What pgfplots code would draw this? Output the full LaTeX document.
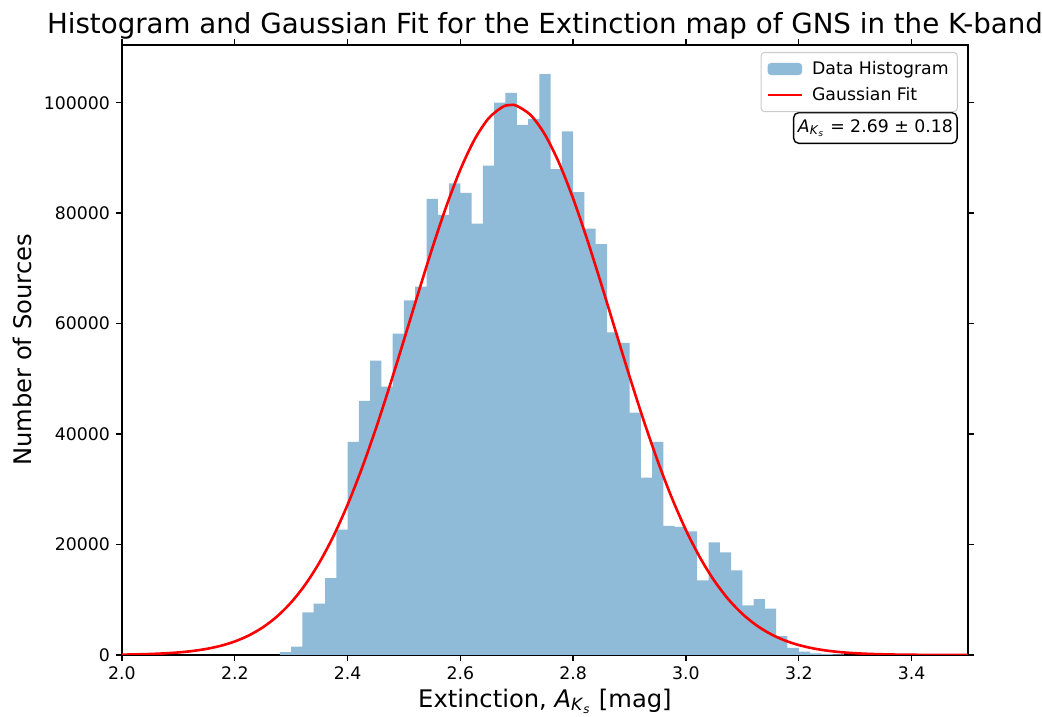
\documentclass[border=0pt]{standalone}
\usepackage{fontspec}
\setmainfont{DejaVu Sans}
\usepackage{pgfplots}
\pgfplotsset{compat=1.18}

\definecolor{histblue}{HTML}{8FBBD9}
\definecolor{fitred}{HTML}{FF0000}
\newcommand\AKs{\textit{A}\textsubscript{\textit{K}\textsubscript{\textit{s}}}}

\begin{document}
\begin{tikzpicture}
\useasboundingbox (-70.5pt,-35.8pt) rectangle (531.8pt,378.6pt);
\begin{axis}[
  at={(0,0)}, anchor=south west,
  scale only axis, width=489pt, height=352.6pt,
  xmin=2, xmax=3.5, ymin=0, ymax=110460,
  xtick={2.0,2.2,2.4,2.6,2.8,3.0,3.2,3.4},
  ytick={0,20000,40000,60000,80000,100000},
  scaled y ticks=false,
  /pgf/number format/assume math mode=true,
  xticklabel style={/pgf/number format/.cd, fixed, fixed zerofill, precision=1},
  yticklabel style={/pgf/number format/.cd, fixed, 1000 sep={}},
  tick label style={font=\fontsize{10}{12}\selectfont},
  tick pos=both, tick align=outside,
  xticklabel pos=lower, yticklabel pos=left,
  major tick length=3.5pt,
  every tick/.style={black, line width=0.8pt},
  axis line style={line width=0.8pt},
  title={Histogram and Gaussian Fit for the Extinction map of GNS in the K-band},
  title style={font=\fontsize{16}{19}\selectfont, yshift=-6.5pt},
  xlabel={Extinction, \AKs{} [mag]},
  xlabel style={yshift=2pt},
  ylabel={Number of Sources},
  label style={font=\fontsize{14}{17}\selectfont},
  legend cell align=left,
  legend style={at={(rel axis cs:0.988,0.9885)}, anchor=north east,
    draw=black!20, rounded corners=2pt, line width=0.6pt,
    font=\fontsize{10}{12}\selectfont, row sep=2pt, inner sep=3pt,
    /tikz/every odd column/.append style={column sep=3pt}},
]
% histogram counts, bins of 0.02 mag (left edges)
\addplot[ybar interval, fill=histblue, draw=none,
  legend image code/.code={\fill[histblue] (0pt,-3.5pt) rectangle (20pt,3.5pt);}]
  coordinates {
  (2.28,500) (2.30,1500) (2.32,7700) (2.34,9300) (2.36,13900) (2.38,22700)
  (2.40,38600) (2.42,46000) (2.44,53300) (2.46,48600) (2.48,58200)
  (2.50,64200) (2.52,66700) (2.54,82600) (2.56,79700) (2.58,85400)
  (2.60,83700) (2.62,78100) (2.64,88600) (2.66,100000) (2.68,101800)
  (2.70,96000) (2.72,97100) (2.74,105200) (2.76,88000) (2.78,94800)
  (2.80,83800) (2.82,77200) (2.84,74400) (2.86,58400) (2.88,56500)
  (2.90,43900) (2.92,32100) (2.94,38600) (2.96,23400) (2.98,23200)
  (3.00,22400) (3.02,13500) (3.04,20400) (3.06,18600) (3.08,15300)
  (3.10,9000) (3.12,10100) (3.14,8400) (3.16,3400) (3.18,1300)
  (3.20,600) (3.22,300) (3.24,200) (3.26,100) (3.28,0)
  };
\addlegendentry{Data Histogram}
% fitted Gaussian, mean 2.69 mag, sigma 0.18 mag
\addplot[fitred, line width=1.5pt, smooth,
  legend image code/.code={\draw[fitred, line width=1.5pt] (0pt,0pt) -- (20pt,0pt);}]
  coordinates {
  (2.000,64) (2.025,108) (2.050,179) (2.075,291) (2.100,463) (2.125,723)
  (2.150,1106) (2.175,1662) (2.200,2449) (2.225,3540) (2.250,5020)
  (2.275,6982) (2.300,9526) (2.325,12749) (2.350,16730) (2.375,21539)
  (2.400,27203) (2.425,33699) (2.450,40947) (2.475,48804) (2.500,57061)
  (2.525,65432) (2.550,73602) (2.575,81213) (2.600,87897) (2.625,93314)
  (2.650,97171) (2.675,99254) (2.690,99600) (2.700,99446) (2.725,97735)
  (2.750,94218) (2.775,89091) (2.800,82635) (2.825,75182) (2.850,67094)
  (2.875,58733) (2.900,50430) (2.925,42475) (2.950,35090) (2.975,28438)
  (3.000,22604) (3.025,17625) (3.050,13480) (3.075,10111) (3.100,7442)
  (3.125,5371) (3.150,3802) (3.175,2640) (3.200,1799) (3.225,1202)
  (3.250,788) (3.275,507) (3.300,320) (3.325,198) (3.350,120)
  (3.375,71) (3.400,42) (3.425,24) (3.450,13) (3.475,7) (3.500,4)
  };
\addlegendentry{Gaussian Fit}
\node[draw=black, rounded corners=3pt, line width=0.8pt, anchor=east,
  font=\fontsize{10}{12}\selectfont, inner xsep=2.5pt, inner ysep=3.8pt, fill=white]
  at (rel axis cs:0.988,0.8639) {\AKs{} = 2.69 ± 0.18};
\end{axis}
\end{tikzpicture}
\end{document}
